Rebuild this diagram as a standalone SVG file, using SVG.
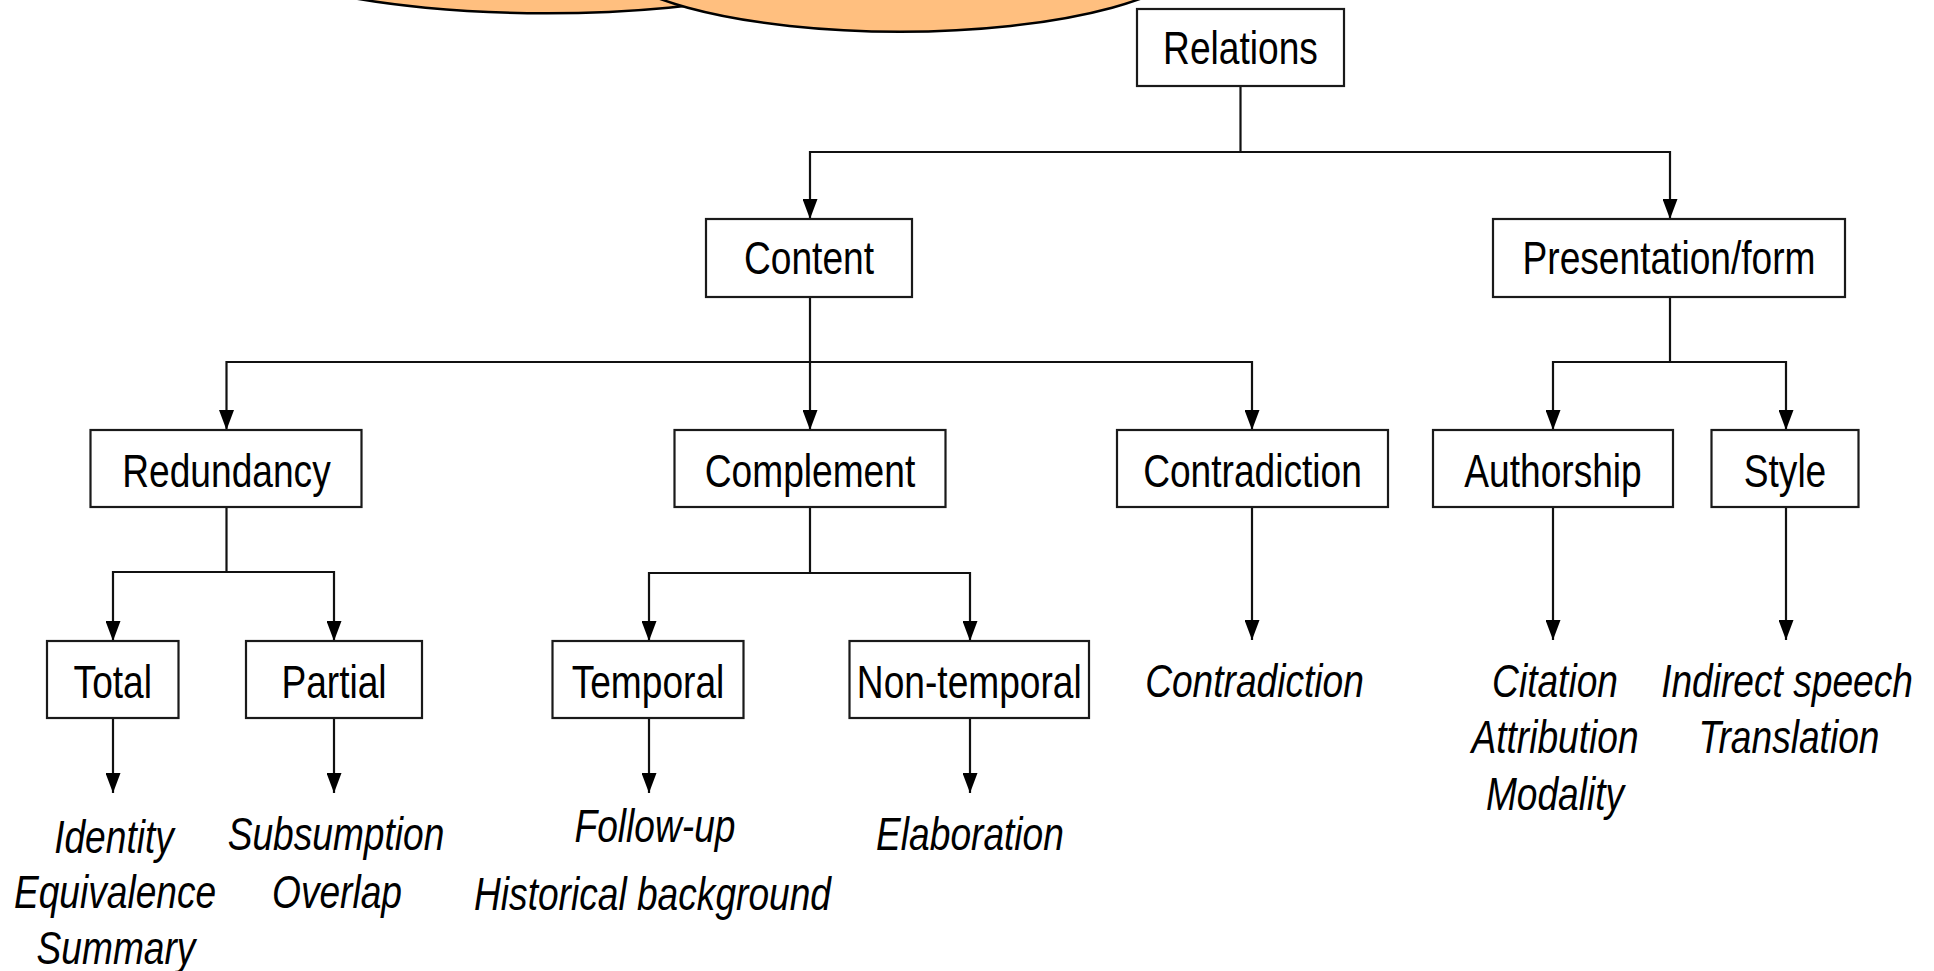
<svg xmlns="http://www.w3.org/2000/svg" width="1934" height="971" viewBox="0 0 1934 971">
<defs>
<style>
.box{fill:#fff;stroke:#1a1a1a;stroke-width:2.2}
.n{font-family:"Liberation Sans",Arial,sans-serif;font-size:47px;fill:#000;text-anchor:middle}
.i{font-family:"Liberation Sans",Arial,sans-serif;font-size:47px;font-style:italic;fill:#000;text-anchor:middle}
.c{fill:none;stroke:#111;stroke-width:2.2}
.blob{fill:#FFBF7F;stroke:#000;stroke-width:2.5}
</style>
<marker id="ah" viewBox="0 0 20 15" refX="20" refY="7.5" markerWidth="20" markerHeight="15" markerUnits="userSpaceOnUse" orient="auto">
<path d="M0,0 L20,7.5 L0,15 z" fill="#000"/>
</marker>
</defs>
<rect width="1934" height="971" fill="#fff"/>
<g id="blobs">
<ellipse class="blob" cx="547" cy="-66.7" rx="330" ry="80"/>
<ellipse class="blob" cx="900" cy="-50.3" rx="300" ry="82"/>
</g>
<g id="connectors">
<path class="c" d="M1240.5,86 V152 H810 V219" marker-end="url(#ah)"/>
<path class="c" d="M1240.5,152 H1670 V219" marker-end="url(#ah)"/>
<path class="c" d="M810,297 V362 H226.5 V430" marker-end="url(#ah)"/>
<path class="c" d="M810,362 V430" marker-end="url(#ah)"/>
<path class="c" d="M810,362 H1252 V430" marker-end="url(#ah)"/>
<path class="c" d="M1670,297 V362 H1553 V430" marker-end="url(#ah)"/>
<path class="c" d="M1670,362 H1786 V430" marker-end="url(#ah)"/>
<path class="c" d="M226.5,507 V572 H113 V641" marker-end="url(#ah)"/>
<path class="c" d="M226.5,572 H334 V641" marker-end="url(#ah)"/>
<path class="c" d="M810,507 V573 H649 V641" marker-end="url(#ah)"/>
<path class="c" d="M810,573 H970 V641" marker-end="url(#ah)"/>
<path class="c" d="M1252,507 V640" marker-end="url(#ah)"/>
<path class="c" d="M1553,507 V640" marker-end="url(#ah)"/>
<path class="c" d="M1786,507 V640" marker-end="url(#ah)"/>
<path class="c" d="M113,718 V793" marker-end="url(#ah)"/>
<path class="c" d="M334,718 V793" marker-end="url(#ah)"/>
<path class="c" d="M649,718 V793" marker-end="url(#ah)"/>
<path class="c" d="M970,718 V793" marker-end="url(#ah)"/>
</g>
<g id="relations"><rect class="box" x="1137" y="9" width="207" height="77"/><text class="n" transform="translate(1240.5,64) scale(0.79,1)">Relations</text></g>
<g id="content"><rect class="box" x="706" y="219" width="206" height="78"/><text class="n" transform="translate(809,274) scale(0.79,1)">Content</text></g>
<g id="presentation"><rect class="box" x="1493" y="219" width="352" height="78"/><text class="n" transform="translate(1669,274) scale(0.79,1)">Presentation/form</text></g>
<g id="redundancy"><rect class="box" x="90.5" y="430" width="271" height="77"/><text class="n" transform="translate(226.5,487) scale(0.79,1)">Redundancy</text></g>
<g id="complement"><rect class="box" x="674.5" y="430" width="271" height="77"/><text class="n" transform="translate(810,487) scale(0.79,1)">Complement</text></g>
<g id="contradiction"><rect class="box" x="1117" y="430" width="271" height="77"/><text class="n" transform="translate(1252.5,487) scale(0.79,1)">Contradiction</text></g>
<g id="authorship"><rect class="box" x="1433" y="430" width="240" height="77"/><text class="n" transform="translate(1553,487) scale(0.79,1)">Authorship</text></g>
<g id="style"><rect class="box" x="1711.5" y="430" width="147" height="77"/><text class="n" transform="translate(1785,487) scale(0.79,1)">Style</text></g>
<g id="total"><rect class="box" x="47" y="641" width="131.5" height="77"/><text class="n" transform="translate(112.8,698) scale(0.79,1)">Total</text></g>
<g id="partial"><rect class="box" x="246" y="641" width="176" height="77"/><text class="n" transform="translate(334,698) scale(0.79,1)">Partial</text></g>
<g id="temporal"><rect class="box" x="552.5" y="641" width="191" height="77"/><text class="n" transform="translate(648,698) scale(0.79,1)">Temporal</text></g>
<g id="nontemporal"><rect class="box" x="849.5" y="641" width="239.5" height="77"/><text class="n" transform="translate(969.3,698) scale(0.79,1)">Non-temporal</text></g>
<g id="total-items">
<text class="i" transform="translate(114,853) scale(0.79,1)">Identity</text>
<text class="i" transform="translate(115,908) scale(0.79,1)">Equivalence</text>
<text class="i" transform="translate(116,964) scale(0.79,1)">Summary</text>
</g>
<g id="partial-items">
<text class="i" transform="translate(336,850) scale(0.79,1)">Subsumption</text>
<text class="i" transform="translate(337,908) scale(0.79,1)">Overlap</text>
</g>
<g id="temporal-items">
<text class="i" transform="translate(655,842) scale(0.79,1)">Follow-up</text>
<text class="i" transform="translate(652.5,910) scale(0.79,1)">Historical background</text>
</g>
<g id="nontemporal-items">
<text class="i" transform="translate(970,850) scale(0.79,1)">Elaboration</text>
</g>
<g id="contradiction-items">
<text class="i" transform="translate(1254.5,697) scale(0.79,1)">Contradiction</text>
</g>
<g id="authorship-items">
<text class="i" transform="translate(1555,697) scale(0.79,1)">Citation</text>
<text class="i" transform="translate(1555,753) scale(0.79,1)">Attribution</text>
<text class="i" transform="translate(1555,810) scale(0.79,1)">Modality</text>
</g>
<g id="style-items">
<text class="i" transform="translate(1787,697) scale(0.79,1)">Indirect speech</text>
<text class="i" transform="translate(1789,753) scale(0.79,1)">Translation</text>
</g>
</svg>
